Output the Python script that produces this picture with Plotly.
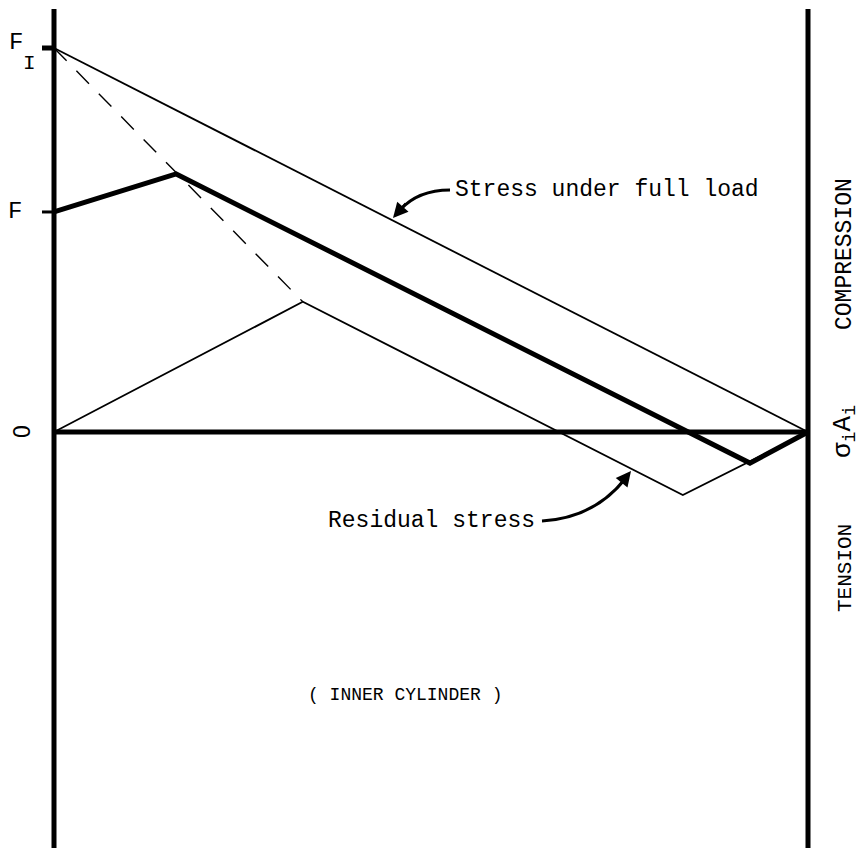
import plotly.graph_objects as go

# ---- data (normalised: x 0..1 across cylinder, y: F_I = 1, 0 = zero line) ----
x_full = [0.0, 1.0]
y_full = [1.0, 0.0]

x_dash = [0.0, 0.330]
y_dash = [1.0, 0.339]

x_resid = [0.0, 0.330, 0.834, 1.0]
y_resid = [0.0, 0.339, -0.164, 0.0]

x_bold = [0.0, 0.162, 0.923, 1.0]
y_bold = [0.573, 0.672, -0.081, 0.0]

x_zero = [0.0, 1.0]
y_zero = [0.0, 0.0]

tick_vals = [1.0, 0.573, 0.0]
tick_labels = ["F", "F", "0"]
tick_subs = ["I", "", ""]

PAGE_W, PAGE_H = 868, 856
OFF = 8                   # html body margin
W, H = PAGE_W - OFF, PAGE_H - OFF
X0PX, X1PX = 54, 808      # screen pixel of x=0 and x=1
Y0PX, UNIT = 432, 384     # screen pixel of y=0, pixels per unit


def px2x(px):
    return (px - X0PX) / (X1PX - X0PX)


def py2y(py):
    return (Y0PX - py) / UNIT


xr = [px2x(OFF), px2x(PAGE_W)]
yr = [py2y(PAGE_H), py2y(OFF)]
y_top, y_bot = py2y(9), py2y(848)

FONT = "Liberation Mono"
fig = go.Figure()

fig.add_trace(go.Scatter(x=x_full, y=y_full, mode="lines",
                         line=dict(color="black", width=1.8)))
fig.add_trace(go.Scatter(x=x_dash, y=y_dash, mode="lines",
                         line=dict(color="black", width=1.4, dash="18px,14px")))
fig.add_trace(go.Scatter(x=x_resid, y=y_resid, mode="lines",
                         line=dict(color="black", width=1.8)))
fig.add_trace(go.Scatter(x=x_zero, y=y_zero, mode="lines",
                         line=dict(color="black", width=5)))
fig.add_trace(go.Scatter(x=x_bold, y=y_bold, mode="lines",
                         line=dict(color="black", width=5)))

shapes = []
# vertical walls
for xv in (0.0, 1.0):
    shapes.append(dict(type="line", xref="x", yref="y", x0=xv, x1=xv,
                       y0=y_bot, y1=y_top, line=dict(color="black", width=5)))
# tick marks at F_I and F
for tv, w in zip(tick_vals[:2], (5, 3)):
    shapes.append(dict(type="line", xref="x", yref="y", x0=px2x(42), x1=0,
                       y0=tv, y1=tv, line=dict(color="black", width=w)))


def qpath(p0, c, p2):
    return "M {} {} Q {} {} {} {}".format(px2x(p0[0]), py2y(p0[1]),
                                           px2x(c[0]), py2y(c[1]),
                                           px2x(p2[0]), py2y(p2[1]))


shapes.append(dict(type="path", xref="x", yref="y",
                   path=qpath((450, 190), (418, 190), (400, 210)),
                   line=dict(color="black", width=3)))
shapes.append(dict(type="path", xref="x", yref="y",
                   path=qpath((542, 521), (594, 518), (625, 479)),
                   line=dict(color="black", width=3)))

ann = []
# arrow heads
ann.append(dict(x=px2x(393), y=py2y(218), xref="x", yref="y", text="",
                showarrow=True, ax=14, ay=-16, arrowhead=2, arrowsize=1.2,
                arrowwidth=2.5, arrowcolor="black"))
ann.append(dict(x=px2x(631), y=py2y(471), xref="x", yref="y", text="",
                showarrow=True, ax=-12, ay=15, arrowhead=2, arrowsize=1.2,
                arrowwidth=2.5, arrowcolor="black"))

# tick labels on left
ann.append(dict(x=px2x(16), y=py2y(42), xref="x", yref="y",
                text=tick_labels[0], showarrow=False,
                font=dict(family=FONT, size=24, color="black")))
ann.append(dict(x=px2x(29), y=py2y(63), xref="x", yref="y",
                text=tick_subs[0], showarrow=False,
                font=dict(family=FONT, size=21, color="black")))
ann.append(dict(x=px2x(15), y=tick_vals[1], xref="x", yref="y",
                text=tick_labels[1], showarrow=False,
                font=dict(family=FONT, size=24, color="black")))
ann.append(dict(x=px2x(22), y=tick_vals[2], xref="x", yref="y",
                text=tick_labels[2], showarrow=False, textangle=-90,
                font=dict(family="Liberation Sans", size=23, color="black")))

# text labels
ann.append(dict(x=px2x(453), y=py2y(190), xref="x", yref="y",
                text="Stress under full load", showarrow=False, xanchor="left",
                font=dict(family=FONT, size=23, color="black")))
ann.append(dict(x=px2x(537), y=py2y(521), xref="x", yref="y",
                text="Residual stress", showarrow=False, xanchor="right",
                font=dict(family=FONT, size=23, color="black")))
ann.append(dict(x=px2x(405), y=py2y(695), xref="x", yref="y",
                text="( INNER CYLINDER )", showarrow=False,
                font=dict(family=FONT, size=18, color="black")))
ann.append(dict(x=px2x(845), y=py2y(254), xref="x", yref="y",
                text="COMPRESSION", showarrow=False, textangle=-90,
                font=dict(family=FONT, size=23, color="black")))
ann.append(dict(x=px2x(844), y=py2y(432), xref="x", yref="y",
                text="σ<sub>i</sub>A<sub>i</sub>", showarrow=False, textangle=-90,
                font=dict(family=FONT, size=26, color="black")))
ann.append(dict(x=px2x(845), y=py2y(568), xref="x", yref="y",
                text="TENSION", showarrow=False, textangle=-90,
                font=dict(family=FONT, size=21, color="black")))

fig.update_layout(
    width=W, height=H,
    margin=dict(l=0, r=0, t=0, b=0),
    paper_bgcolor="white", plot_bgcolor="white",
    showlegend=False,
    xaxis=dict(range=xr, visible=False, fixedrange=True),
    yaxis=dict(range=yr, visible=False, fixedrange=True),
    shapes=shapes, annotations=ann,
)

fig.write_html("out.html")
